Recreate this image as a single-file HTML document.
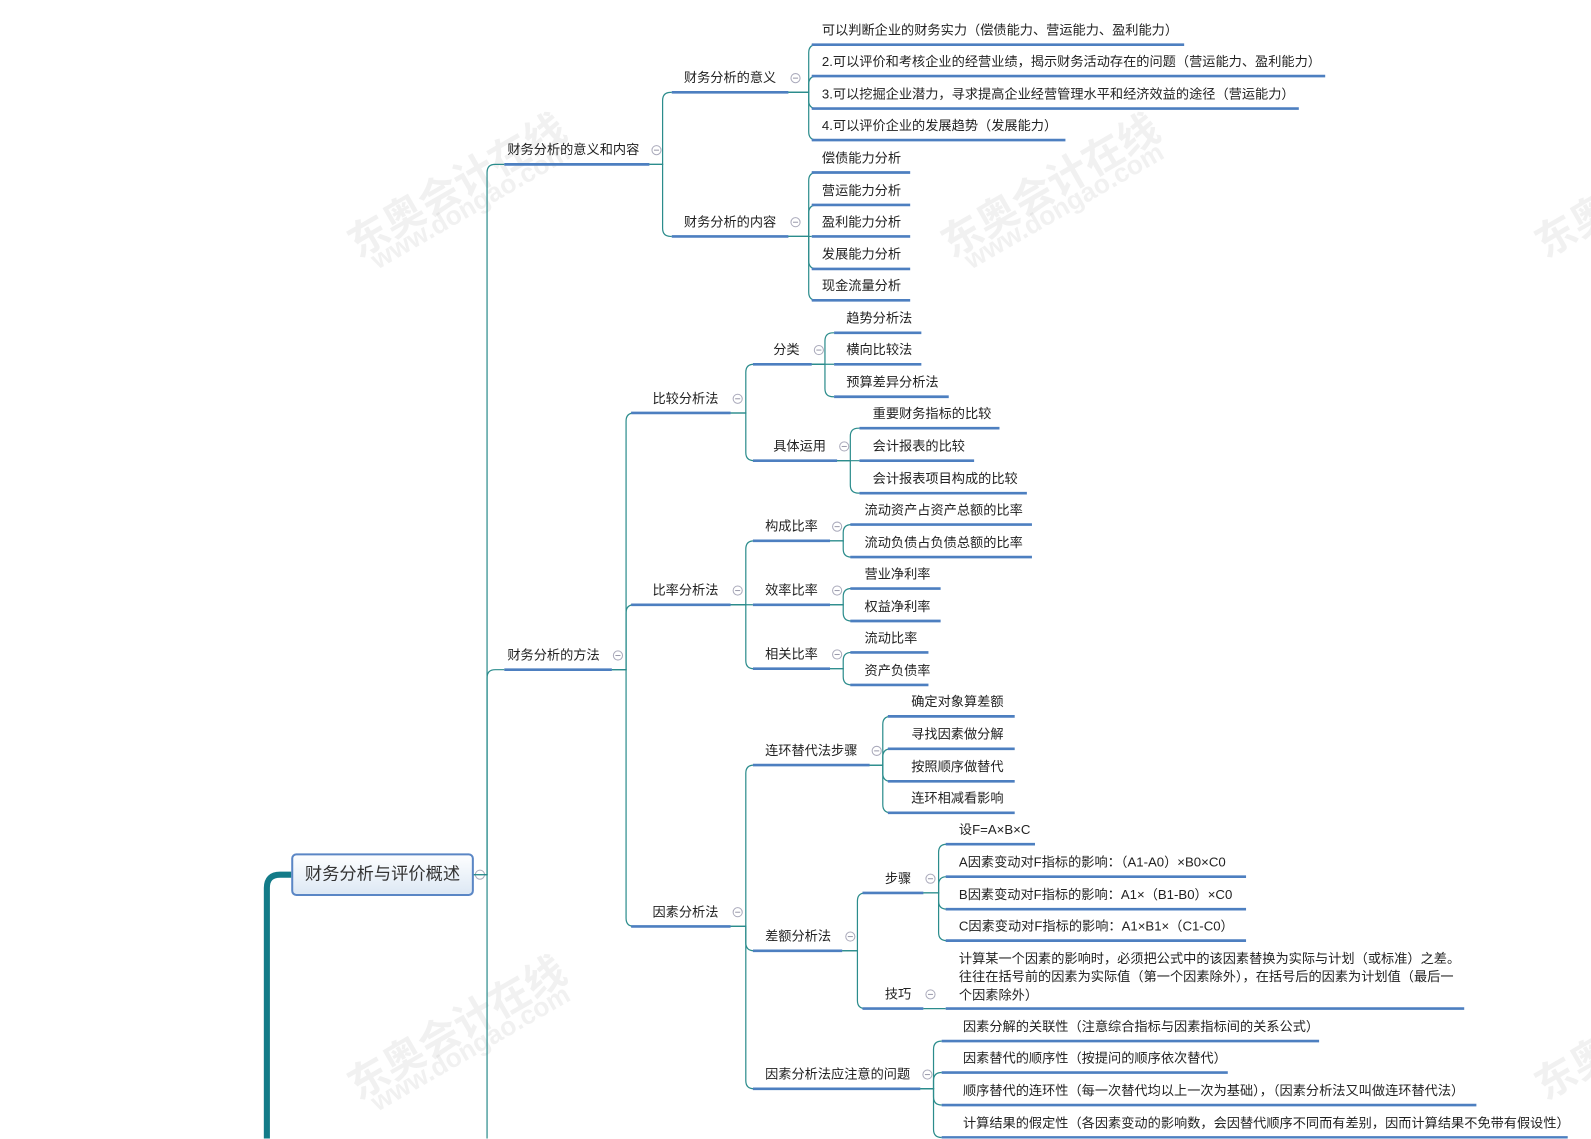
<!DOCTYPE html>
<html><head><meta charset="utf-8">
<style>
html,body{margin:0;padding:0;background:#fff;width:1591px;height:1138px;overflow:hidden}
#w{position:absolute;left:0;top:0;width:1568px;height:1122px;transform:scale(1.0147);transform-origin:0 0;font-family:"Liberation Sans","Noto Sans CJK SC",sans-serif;}
.t{position:absolute;font-size:13px;color:#222;white-space:nowrap;line-height:18px}
.wm{position:absolute;color:rgba(150,150,150,0.13);font-weight:bold;transform:rotate(-30deg);transform-origin:0 0;white-space:nowrap}
#root{position:absolute;left:287px;top:841px;width:176px;height:38px;border:2px solid #5a86c5;border-radius:5px;background:linear-gradient(#fdfeff,#dde8f4);font-size:17px;color:#333;text-align:center;line-height:38px}
svg{position:absolute;left:0;top:0}
</style></head><body><div id="w">
<div class="wm" style="left:330px;top:215px;font-size:40px">东奥会计在线</div>
<div class="wm" style="left:360px;top:245px;font-size:26px">www.dongao.com</div>
<div class="wm" style="left:915px;top:215px;font-size:40px">东奥会计在线</div>
<div class="wm" style="left:945px;top:245px;font-size:26px">www.dongao.com</div>
<div class="wm" style="left:330px;top:1045px;font-size:40px">东奥会计在线</div>
<div class="wm" style="left:360px;top:1075px;font-size:26px">www.dongao.com</div>
<div class="wm" style="left:1500px;top:215px;font-size:40px">东奥</div>
<div class="wm" style="left:1500px;top:1045px;font-size:40px">东奥</div>
<svg id="s" width="1568" height="1122"></svg>
<div id="root">财务分析与评价概述</div>
</div>
<script>
var s=document.getElementById('s'),w=document.getElementById('w'),P='';
function ln(d,c,wd){P+='<path d="'+d+'" fill="none" stroke="'+c+'" stroke-width="'+wd+'"/>';}
function E(px,py,vx,cx,cy){var r=8,d='M'+px+' '+py+' H'+vx;if(Math.abs(cy-py)<2){d+=' H'+cx;}else{var sg=cy>py?1:-1;d+=' V'+(cy-sg*r)+' Q'+vx+' '+cy+' '+(vx+r)+' '+cy+' H'+cx;}ln(d,'#2b8c8c',1.2);}
function T(t,x,y){var e=document.createElement('div');e.className='t';e.style.left=x+'px';e.style.top=(y-9)+'px';e.innerHTML=t;w.appendChild(e);}
function U(x1,x2,y){ln('M'+x1+' '+y+' H'+x2,'#4d7fc0',2.6);}
function C(x,y){P+='<circle cx="'+x+'" cy="'+y+'" r="4.5" fill="#fff" stroke="#aab" stroke-width="1"/><path d="M'+(x-2.5)+' '+y+' H'+(x+2.5)+'" stroke="#99a" stroke-width="1"/>';}
// node: text,x,y,u1,u2,circle; returns anchor
function N(t,x,y,u1,u2,c){T(t,x,y);U(u1,u2,y+14);if(c)C(c,y);return [u2,y+14];}
function kids(a,vx,list,tx,u1){list.forEach(function(it){E(a[0],a[1],vx,u1,it[1]+14);N(it[0],tx,it[1],u1,it[2]);});}
// root
ln('M263 1122 V875 Q263 862 276 862 H287','#137b88',6);
ln('M466 862 H480 V1122','#2b8c8c',1.2);C(473,862);
var A=[466,862];
E(466,862,480,497,162);E(466,862,480,497,660);
var a1=N('财务分析的意义和内容',500,148,497,640,647);
E(640,162,653,662,91);E(640,162,653,662,233);
var b1=N('财务分析的意义',674,77,662,777,784);
var b2=N('财务分析的内容',674,219,662,777,784);
kids(b1,797,[['可以判断企业的财务实力（偿债能力、营运能力、盈利能力）',30,1167],['2.可以评价和考核企业的经营业绩，揭示财务活动存在的问题（营运能力、盈利能力）',61,1306],['3.可以挖掘企业潜力，寻求提高企业经营管理水平和经济效益的途径（营运能力）',93,1280],['4.可以评价企业的发展趋势（发展能力）',124,1050]],810,800);
kids(b2,797,[['偿债能力分析',156,897],['营运能力分析',188,897],['盈利能力分析',219,897],['发展能力分析',251,897],['现金流量分析',282,897]],810,800);
var m=N('财务分析的方法',500,646,497,603,609);
[393,582,899].forEach(function(y){E(603,660,617,622,y+14);});
var bj=N('比较分析法',643,393,622,720,727);
var bl=N('比率分析法',643,582,622,720,727);
var ys=N('因素分析法',643,899,622,720,727);
E(720,407,735,742,359);E(720,407,735,742,454);
var fl=N('分类',762,345,742,800,807);
var jt=N('具体运用',762,440,742,825,832);
kids(fl,813,[['趋势分析法',314,908],['横向比较法',345,908],['预算差异分析法',377,935]],834,822);
kids(jt,838,[['重要财务指标的比较',408,985],['会计报表的比较',440,960],['会计报表项目构成的比较',472,1012]],860,847);
[519,582,645].forEach(function(y){E(720,596,735,742,y+14);});
var g1=N('构成比率',754,519,742,818,825);
var g2=N('效率比率',754,582,742,818,825);
var g3=N('相关比率',754,645,742,818,825);
kids(g1,831,[['流动资产占资产总额的比率',503,1017],['流动负债占负债总额的比率',535,1017]],852,838);
kids(g2,831,[['营业净利率',566,927],['权益净利率',598,927]],852,838);
kids(g3,831,[['流动比率',629,915],['资产负债率',661,915]],852,838);
[740,923,1059].forEach(function(y){E(720,913,735,742,y+14);});
var lh=N('连环替代法步骤',754,740,742,857,864);
var ce=N('差额分析法',754,923,742,830,838);
var zy=N('因素分析法应注意的问题',754,1059,742,907,914);
kids(lh,870,[['确定对象算差额',692,1000],['寻找因素做分解',724,1000],['按照顺序做替代',756,1000],['连环相减看影响',787,1000]],898,875);
E(830,937,845,850,880);E(830,937,845,850,994);
var bz=N('步骤',872,866,850,910,917);
var jq=N('技巧',872,980,850,910,917);
kids(bz,925,[['设F=A×B×C',818,1020],['A因素变动对F指标的影响：（A1-A0）×B0×C0',850,1228],['B因素变动对F指标的影响：A1×（B1-B0）×C0',882,1228],['C因素变动对F指标的影响：A1×B1×（C1-C0）',913,1228]],945,932);
ln('M910 994 H932','#2b8c8c',1.2);U(932,1443,994);
T('计算某一个因素的影响时，必须把公式中的该因素替换为实际与计划（或标准）之差。',945,945);
T('往往在括号前的因素为实际值（第一个因素除外），在括号后的因素为计划值（最后一',945,963);
T('个因素除外）',945,981);
kids(zy,920,[['因素分解的关联性（注意综合指标与因素指标间的关系公式）',1012,1300],['因素替代的顺序性（按提问的顺序依次替代）',1043,1210],['顺序替代的连环性（每一次替代均以上一次为基础），（因素分析法又叫做连环替代法）',1075,1455],['计算结果的假定性（各因素变动的影响数，会因替代顺序不同而有差别，因而计算结果不免带有假设性）',1107,1545]],949,928);
s.innerHTML=P;
</script>
</body></html>
